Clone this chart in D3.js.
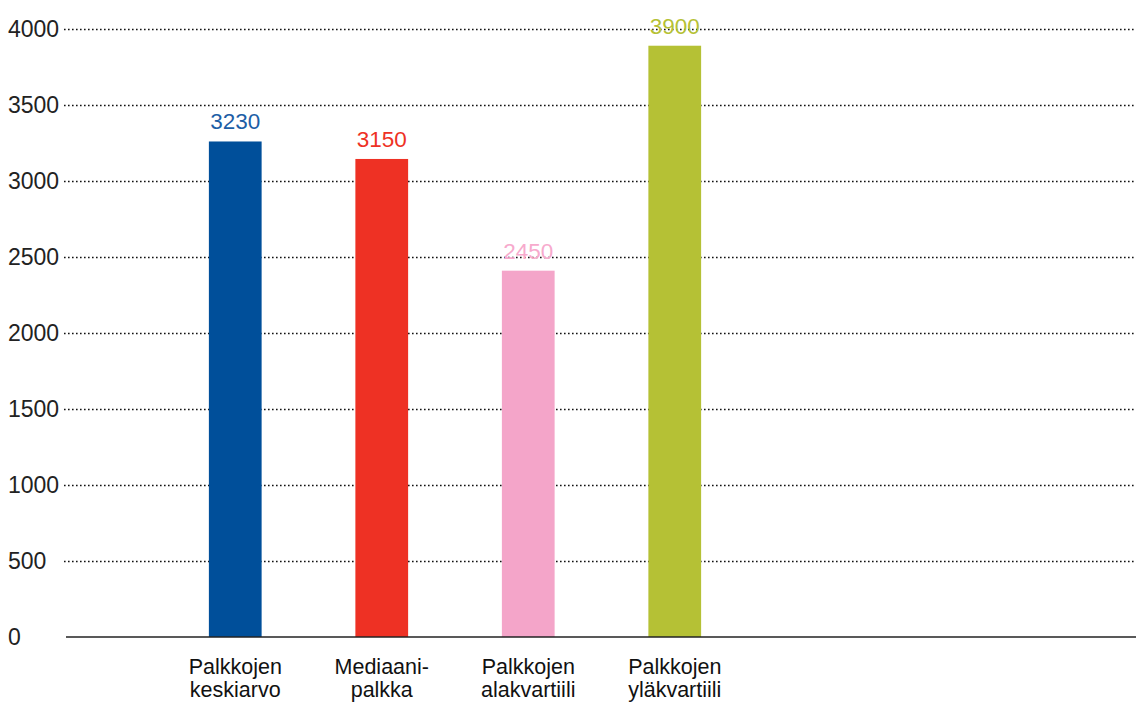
<!DOCTYPE html>
<html>
<head>
<meta charset="utf-8">
<script src="https://cdn.jsdelivr.net/npm/d3@7"></script>
<style>
  html, body { margin: 0; padding: 0; background: #fff; }
  svg { display: block; }
  text { font-family: "Liberation Sans", Arial, Helvetica, sans-serif; }
</style>
</head>
<body>
<svg id="chart" width="1136" height="703"></svg>
<script>
const categories = [
  ["Palkkojen", "keskiarvo"],
  ["Mediaani-", "palkka"],
  ["Palkkojen", "alakvartiili"],
  ["Palkkojen", "yläkvartiili"]
];
const barValues = [3260, 3145, 2410, 3890];
const valueLabels = ["3230", "3150", "2450", "3900"];
const barColors = ["#004f9a", "#ee3124", "#f4a5c9", "#b5c135"];
const labelColors = ["#1d5ea6", "#ee3124", "#f7aacd", "#b5c135"];
const yTicks = [0, 500, 1000, 1500, 2000, 2500, 3000, 3500, 4000];

const svg = d3.select("#chart");
const W = 1136;

const y = d3.scaleLinear().domain([0, 4000]).range([637, 29]);
const x = d3.scaleBand()
  .domain(d3.range(categories.length))
  .range([162, 748])
  .paddingInner(0.64)
  .paddingOuter(0.32);

// gridlines
svg.append("g")
  .selectAll("line")
  .data(yTicks.filter(d => d > 0))
  .join("line")
  .attr("x1", 64).attr("x2", W)
  .attr("y1", d => Math.round(y(d)) + 0.5)
  .attr("y2", d => Math.round(y(d)) + 0.5)
  .attr("stroke", "#111")
  .attr("stroke-width", 1.6)
  .attr("stroke-dasharray", "1.6 2.4");

// y tick labels
svg.append("g")
  .selectAll("text")
  .data(yTicks)
  .join("text")
  .attr("x", 8)
  .attr("y", d => y(d))
  .attr("dy", "0.36em")
  .attr("font-size", 23)
  .attr("fill", "#222")
  .text(d => d);

// bars
svg.append("g")
  .selectAll("rect")
  .data(barValues)
  .join("rect")
  .attr("x", (d, i) => x(i))
  .attr("width", x.bandwidth())
  .attr("y", d => y(d))
  .attr("height", d => y(0) - y(d))
  .attr("fill", (d, i) => barColors[i]);

// baseline
svg.append("line")
  .attr("x1", 66).attr("x2", W)
  .attr("y1", y(0)).attr("y2", y(0))
  .attr("stroke", "#222")
  .attr("stroke-width", 1.5);

// value labels
svg.append("g")
  .selectAll("text")
  .data(barValues)
  .join("text")
  .attr("x", (d, i) => x(i) + x.bandwidth() / 2)
  .attr("y", d => y(d) - 12)
  .attr("text-anchor", "middle")
  .attr("font-size", 22.5)
  .attr("fill", (d, i) => labelColors[i])
  .text((d, i) => valueLabels[i]);

// category labels
const cat = svg.append("g")
  .selectAll("text")
  .data(categories)
  .join("text")
  .attr("x", (d, i) => x(i) + x.bandwidth() / 2)
  .attr("y", 674)
  .attr("text-anchor", "middle")
  .attr("font-size", 21.5)
  .attr("fill", "#111");
cat.each(function(d, i) {
  const t = d3.select(this);
  d.forEach((line, k) => {
    t.append("tspan")
      .attr("x", x(i) + x.bandwidth() / 2)
      .attr("dy", k === 0 ? 0 : 23)
      .text(line);
  });
});
</script>
</body>
</html>
